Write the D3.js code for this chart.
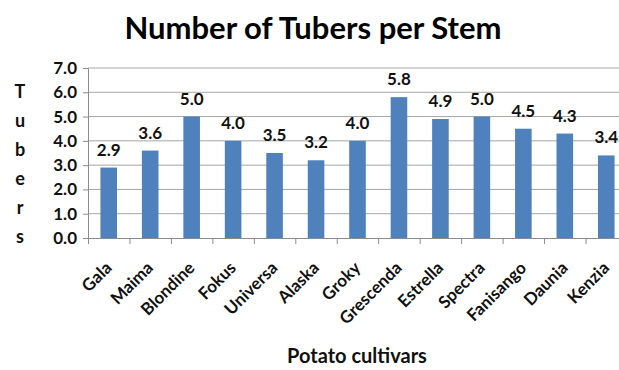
<!DOCTYPE html>
<html>
<head>
<meta charset="utf-8">
<script src="https://cdn.jsdelivr.net/npm/d3@7"></script>
<style>
  html, body { margin: 0; padding: 0; background: #fff; }
  svg { display: block; font-family: Lato, "Open Sans", sans-serif; }
</style>
</head>
<body>
<svg id="chart" width="619" height="370"></svg>
<script>
// Tubers per stem for each potato cultivar
const cultivars = ["Gala", "Maima", "Blondine", "Fokus", "Universa", "Alaska", "Groky",
                   "Grescenda", "Estrella", "Spectra", "Fanisango", "Daunia", "Kenzia"];
const tubersPerStem = [2.9, 3.6, 5.0, 4.0, 3.5, 3.2, 4.0, 5.8, 4.9, 5.0, 4.5, 4.3, 3.4];
const yTicks = [0, 1, 2, 3, 4, 5, 6, 7];
const yLetters = ["T", "u", "b", "e", "r", "s"];

const svg = d3.select("#chart");
const plot = { left: 88, right: 627, top: 68, bottom: 238 };

const x = d3.scaleBand().domain(cultivars).range([plot.left, plot.right]).paddingInner(0.6).paddingOuter(0.3);
const band = d3.scaleBand().domain(cultivars).range([plot.left, plot.right]);
const y = d3.scaleLinear().domain([0, 7]).range([plot.bottom, plot.top]);

// horizontal gridlines
svg.append("g").selectAll("line").data(yTicks.slice(1)).join("line")
  .attr("x1", plot.left).attr("x2", plot.right)
  .attr("y1", d => y(d)).attr("y2", d => y(d))
  .attr("stroke", "#a6a6a6").attr("stroke-width", 1);

// y axis
const yAxis = svg.append("g").attr("transform", `translate(${plot.left},0)`)
  .call(d3.axisLeft(y).tickValues(yTicks).tickFormat(d3.format(".1f")).tickSize(5).tickPadding(6));
yAxis.select(".domain").attr("stroke", "#8c8c8c");
yAxis.selectAll(".tick line").attr("stroke", "#8c8c8c");
yAxis.selectAll("text").attr("font-size", 17).attr("font-weight", "bold").attr("fill", "#111")
  .attr("font-family", "Lato, sans-serif");

// bars
svg.append("g").selectAll("rect").data(cultivars).join("rect")
  .attr("x", d => x(d)).attr("width", x.bandwidth())
  .attr("y", (d, i) => y(tubersPerStem[i]))
  .attr("height", (d, i) => y(0) - y(tubersPerStem[i]))
  .attr("fill", "#4f81bd");

// value labels
svg.append("g").selectAll("text").data(cultivars).join("text")
  .attr("x", d => x(d) + x.bandwidth() / 2)
  .attr("y", (d, i) => y(tubersPerStem[i]) - 12)
  .attr("text-anchor", "middle").attr("font-size", 17).attr("font-weight", "bold").attr("fill", "#111")
  .text((d, i) => tubersPerStem[i].toFixed(1));

// x axis with ticks at category boundaries
svg.append("line").attr("x1", plot.left).attr("x2", plot.right)
  .attr("y1", plot.bottom + 0.5).attr("y2", plot.bottom + 0.5).attr("stroke", "#8c8c8c");
svg.append("g").selectAll("line").data(cultivars).join("line")
  .attr("x1", d => band(d) + 0.5).attr("x2", d => band(d) + 0.5)
  .attr("y1", plot.bottom).attr("y2", plot.bottom + 6).attr("stroke", "#8c8c8c");

// rotated category labels
svg.append("g").selectAll("text").data(cultivars).join("text")
  .attr("transform", d => `translate(${x(d) + x.bandwidth() / 2 + 4},${plot.bottom + 31}) rotate(-45)`)
  .attr("text-anchor", "end").attr("font-size", 17).attr("font-weight", "bold").attr("fill", "#111")
  .text(d => d);

// title
svg.append("text").attr("x", 313).attr("y", 39).attr("text-anchor", "middle")
  .attr("font-size", 31).attr("font-weight", "bold").attr("fill", "#000")
  .text("Number of Tubers per Stem");

// x axis title
svg.append("text").attr("x", 357).attr("y", 363).attr("text-anchor", "middle")
  .attr("font-size", 20).attr("font-weight", "bold").attr("fill", "#111")
  .text("Potato cultivars");

// y axis title, letters stacked vertically
svg.append("g").selectAll("text").data(yLetters).join("text")
  .attr("x", 20).attr("y", (d, i) => 98 + i * 29)
  .attr("text-anchor", "middle").attr("font-size", 18).attr("font-weight", "bold").attr("fill", "#111")
  .text(d => d);
</script>
</body>
</html>
